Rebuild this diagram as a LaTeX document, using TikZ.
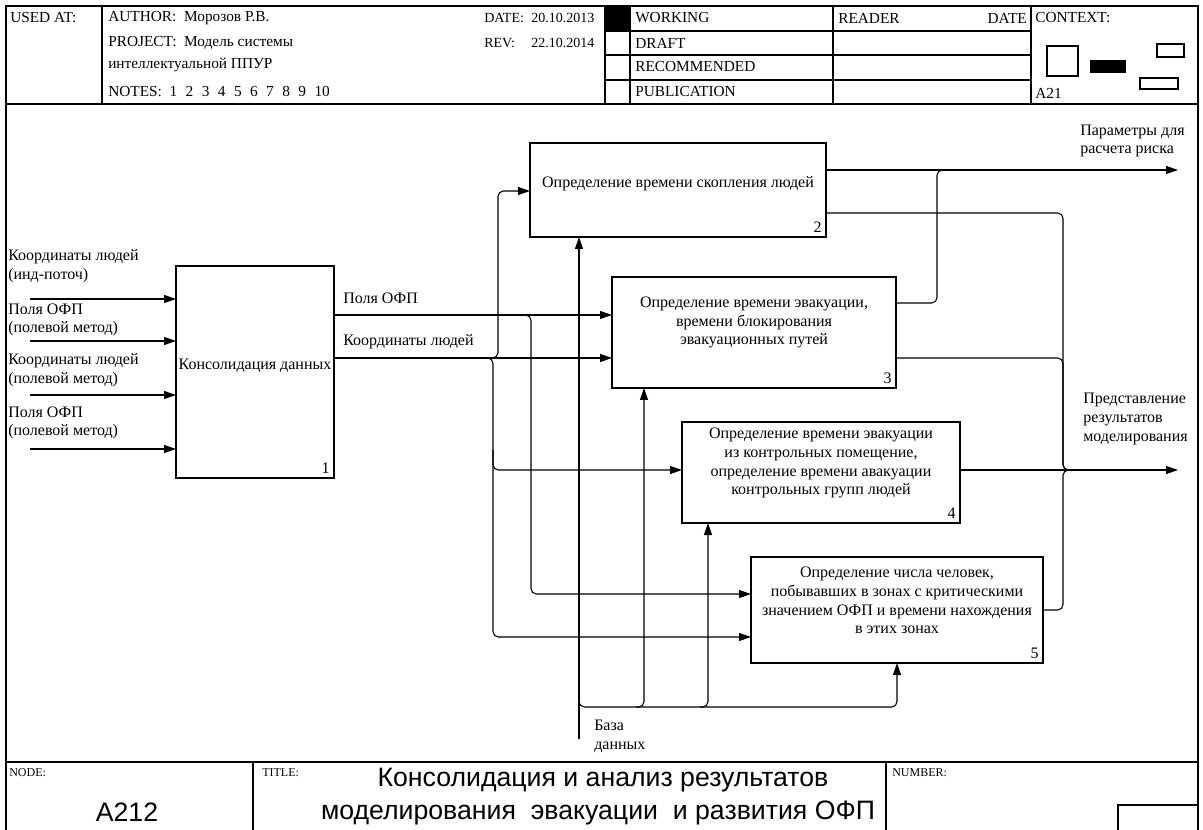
\documentclass[tikz,border=0pt]{standalone}
\usepackage{fontspec}
\setmainfont{Liberation Serif}
\newfontfamily\titlefont{Liberation Sans}
\usetikzlibrary{arrows.meta,positioning}
\tikzset{
	fbox/.style 2 args={draw, line width=1.6pt, inner sep=0pt, outer sep=0pt,
		minimum width=#1*0.75pt, minimum height=#2*0.75pt},
	ftext/.style={align=center, inner sep=0pt, font=\fontsize{12}{14}\selectfont},
	lbl/.style={align=left, anchor=west, inner sep=0pt, font=\fontsize{12}{14}\selectfont},
	num/.style={anchor=south east, inner sep=3pt, font=\fontsize{12}{13}\selectfont},
	hdr/.style={anchor=west, inner sep=0pt, font=\fontsize{11.5}{12}\selectfont},
	hdrs/.style={anchor=west, inner sep=0pt, font=\fontsize{10.5}{12}\selectfont},
	small/.style={anchor=west, inner sep=0pt, font=\fontsize{9}{10}\selectfont},
	ttl/.style={font=\titlefont\fontsize{20}{22}\selectfont},
	arr/.style={line width=0.8pt, rounded corners=4pt, -{Triangle[length=9pt,width=6pt]}},
	conn/.style={line width=0.8pt, rounded corners=4pt},
}
\begin{document}
\begin{tikzpicture}[x=0.75pt, y=-0.75pt]
		\useasboundingbox (0,0) rectangle (1203,830);
		% Frame and header
		\draw [line width=0.8pt] (6,830) -- (6,6) -- (1198,6) -- (1198,830);
		\draw [line width=0.8pt] (6,104) -- (1198,104);
		\foreach \x in {102,605,630,833,1031}
			\draw [line width=0.8pt] (\x,6) -- (\x,104);
		\foreach \y in {31,55,80}
			\draw [line width=0.8pt] (605,\y) -- (1031,\y);
		\fill (605,6) rectangle (630,31);
		\node [hdr] at (10,18) {USED AT:};
		\node [hdr] at (108,18) {AUTHOR:\ \ Морозов Р.В.};
		\node [hdr] at (108,43) {PROJECT:\ \ Модель системы};
		\node [hdr] at (108,65) {интеллектуальной ППУР};
		\node [hdr] at (108,92) {NOTES:\ \ 1\hspace{0.55em}2\hspace{0.55em}3\hspace{0.55em}4\hspace{0.55em}5\hspace{0.55em}6\hspace{0.55em}7\hspace{0.55em}8\hspace{0.55em}9\hspace{0.55em}10};
		\node [hdrs] at (484,18) {DATE:};
		\node [hdrs] at (531,18) {20.10.2013};
		\node [hdrs] at (484,43) {REV:};
		\node [hdrs] at (531,43) {22.10.2014};
		\foreach \t/\y in {WORKING/18,DRAFT/43,RECOMMENDED/67,PUBLICATION/92}
			\node [hdr] at (635,\y) {\t};
		\node [hdr] at (838,18) {READER};
		\node [hdr, anchor=east] at (1027,18) {DATE};
		\node [hdr] at (1035,18) {CONTEXT:};
		\node [hdr] at (1035,93) {A21};
		% Context picture
		\draw [line width=0.8pt] (1047,46) rectangle (1078,76);
		\fill (1090,60) rectangle (1126,73);
		\draw [line width=0.8pt] (1157,44) rectangle (1184,57);
		\draw [line width=0.8pt] (1140,78) rectangle (1178,89);
		% Footer
		\draw [line width=0.8pt] (6,762) -- (1198,762);
		\draw [line width=0.8pt] (253,762) -- (253,830);
		\draw [line width=0.8pt] (886,762) -- (886,830);
		\draw [line width=0.8pt] (1118,830) -- (1118,805) -- (1198,805);
		\node [small] at (9,773) {NODE:};
		\node [small] at (262,773) {TITLE:};
		\node [small] at (892,773) {NUMBER:};
		\node [ttl] at (127,812) {A212};
		\node [ttl] at (603,780) {Консолидация и анализ результатов};
		\node [ttl] at (598,813) {моделирования\ \ эвакуации\ \ и развития ОФП};
		% Boxes
		\node [fbox={158}{212}] (b1) at (255,372) {};
		\node [fbox={296}{94}]  (b2) at (678,190) {};
		\node [fbox={284}{111}] (b3) at (754,332.5) {};
		\node [fbox={278}{101}] (b4) at (821,472.5) {};
		\node [fbox={292}{106}] (b5) at (897,610) {};
		\node [ftext] at ([yshift=4.5pt]b1.center) {Консолидация данных};
		\node [ftext] at ([yshift=5pt]b2.center) {Определение времени скопления людей};
		\node [ftext] at ([yshift=7.5pt]b3.center) {Определение времени эвакуации,\\времени блокирования\\эвакуационных путей};
		\node [ftext] at ([yshift=7pt]b4.center) {Определение времени эвакуации\\из контрольных помещение,\\определение времени авакуации\\контрольных групп людей};
		\node [ftext] at ([yshift=7pt]b5.center) {Определение числа человек,\\побывавших в зонах с критическими\\значением ОФП и времени нахождения\\в этих зонах};
		\foreach \b/\n in {b1/1,b2/2,b3/3,b4/4,b5/5}
			\node [num] at (\b.south east) {\n};
		% Inputs of box 1
		\foreach \y/\n in {299/1,341/2,395/3,449/4} {
			\coordinate (in\n) at (30,\y);
			\draw [arr] (in\n) -- (in\n -| b1.west);
		}
		\node [lbl] at (8,266) {Координаты людей\\(инд-поточ)};
		\node [lbl] at (8,320) {Поля ОФП\\(полевой метод)};
		\node [lbl] at (8,370) {Координаты людей\\(полевой метод)};
		\node [lbl] at (8,423) {Поля ОФП\\(полевой метод)};
		% Outputs of box 1
		\draw [arr] (b1.east |- 0,315) -- (b3.west |- 0,315);
		\draw [arr] (b1.east |- 0,358) -- (b3.west |- 0,358);
		\node [lbl] at (343,298) {Поля ОФП};
		\node [lbl] at (343,342) {Координаты людей};
		\draw [arr] (490,358) -| (498,191) -- (b2.west |- 0,191);
		\draw [arr] (485,358) -| (493,637) -- (b5.west |- 0,637);
		\draw [arr] (493,450) |- (b4.west |- 0,470);
		\draw [arr] (523,315) -| (531,594) -- (b5.west |- 0,594);
		% Data base
		\coordinate (db) at (579,739);
		\draw [arr] (db) -- (db |- b2.south);
		\draw [arr] (579,699) |- (b5.south |- 0,707) -- (b5.south);
		\draw [arr] (636,707) -| (b3.south -| 644,0);
		\draw [arr] (700,707) -| (b4.south -| 708,0);
		\node [lbl] at (594,736) {База\\данных};
		% Outputs
		\coordinate (po) at (1178,170);
		\coordinate (pr) at (1178,470);
		\draw [arr] (b2.east |- po) -- (po);
		\draw [conn] (b3.east |- 0,303) -| (937,170) -- (947,170);
		\draw [conn] (b2.east |- 0,213) -| (1063,470) -- (1073,470);
		\draw [conn] (b3.east |- 0,358) -| (1063,470) -- (1073,470);
		\draw [conn] (b5.east |- 0,610) -| (1063,470) -- (1073,470);
		\draw [arr] (b4.east |- pr) -- (pr);
		\node [lbl] at (1080,141) {Параметры для\\расчета риска};
		\node [lbl] at (1083,419) {Представление\\результатов\\моделирования};
\end{tikzpicture}
\end{document}
